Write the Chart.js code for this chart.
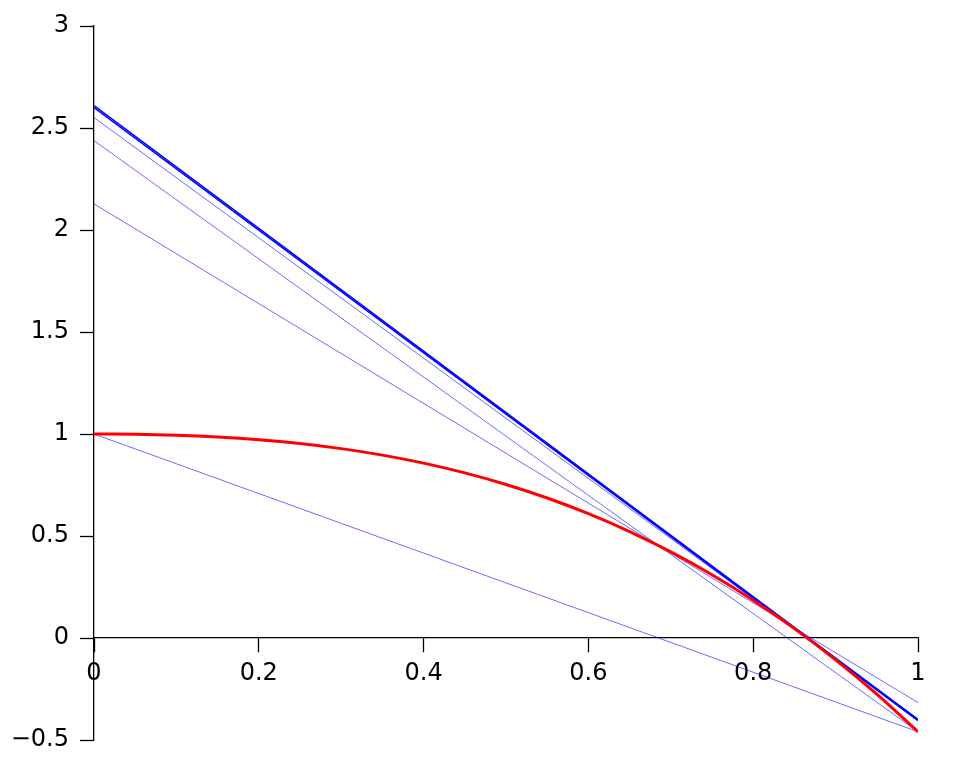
<!DOCTYPE html>
<html>
<head>
<meta charset="utf-8">
<title>Secant lines</title>
<script src="https://cdn.jsdelivr.net/npm/chart.js@4.4.1/dist/chart.umd.min.js"></script>
<style>
  html, body { margin: 0; padding: 0; background: #fff; }
  #wrap { width: 960px; height: 768px; }
</style>
</head>
<body>
<div id="wrap"><canvas id="chart" width="960" height="768"></canvas></div>
<script>
// red curve
const curveX = [0, 0.05, 0.1, 0.15, 0.2, 0.25, 0.3, 0.35, 0.4, 0.45, 0.5,
                0.55, 0.6, 0.65, 0.7, 0.75, 0.8, 0.85, 0.9, 0.95, 1];
const curveY = [1, 0.9986, 0.994, 0.9854, 0.9721, 0.9533, 0.9283, 0.8965, 0.8571, 0.8093, 0.7526,
                0.6861, 0.6093, 0.5215, 0.4218, 0.3098, 0.1847, 0.0459, -0.1074, -0.2757, -0.4597];

// blue lines: value at x = 0 and at x = 1
const lineStart = [1, 2.438, 2.128, 2.551, 2.600, 2.610];
const lineEnd = [-0.4597, -0.4597, -0.317, -0.397, -0.405, -0.400];

const xTicks = [0, 0.2, 0.4, 0.6, 0.8, 1];
const yTicks = [-0.5, 0, 0.5, 1, 1.5, 2, 2.5, 3];

function fmt(v) {
  return String(Math.round(v * 10) / 10).replace("-", "\u2212");
}

const datasets = [{
  data: curveX.map((x, i) => ({ x: x, y: curveY[i] })),
  borderColor: "#ff0000",
  borderWidth: 3,
  tension: 0.3,
  pointRadius: 0,
  fill: false
}];

lineStart.forEach((y0, i) => {
  const thick = i >= 4;
  datasets.push({
    data: [{ x: 0, y: y0 }, { x: 1, y: lineEnd[i] }],
    borderColor: thick ? "#0000ff" : "rgba(0, 0, 255, 0.65)",
    borderWidth: thick ? 1.6 : 0.9,
    pointRadius: 0,
    fill: false
  });
});

const font = { family: "DejaVu Sans", size: 24 };

new Chart(document.getElementById("chart"), {
  type: "line",
  data: { datasets: datasets },
  options: {
    responsive: false,
    animation: false,
    devicePixelRatio: 1,
    layout: { padding: { left: 0, right: 42, top: 26, bottom: 28 } },
    plugins: { legend: { display: false }, tooltip: { enabled: false } },
    scales: {
      x: {
        type: "linear",
        min: 0,
        max: 1,
        position: { y: 0 },
        afterBuildTicks: axis => { axis.ticks = xTicks.map(v => ({ value: v })); },
        ticks: { color: "#000", font: font, padding: 7, maxRotation: 0, autoSkip: false, callback: fmt },
        grid: { drawOnChartArea: false, drawTicks: true, tickLength: 14, color: "#000", tickWidth: 1.3 },
        border: { display: true, color: "#000", width: 1.3 }
      },
      y: {
        type: "linear",
        min: -0.5,
        max: 3,
        position: "left",
        afterBuildTicks: axis => { axis.ticks = yTicks.map(v => ({ value: v })); },
        afterFit: axis => { axis.width = 94; },
        ticks: { color: "#000", font: font, padding: 11, autoSkip: false, callback: fmt },
        grid: { drawOnChartArea: false, drawTicks: true, tickLength: 14, color: "#000", tickWidth: 1.3 },
        border: { display: true, color: "#000", width: 1.3 }
      }
    }
  }
});
</script>
</body>
</html>
